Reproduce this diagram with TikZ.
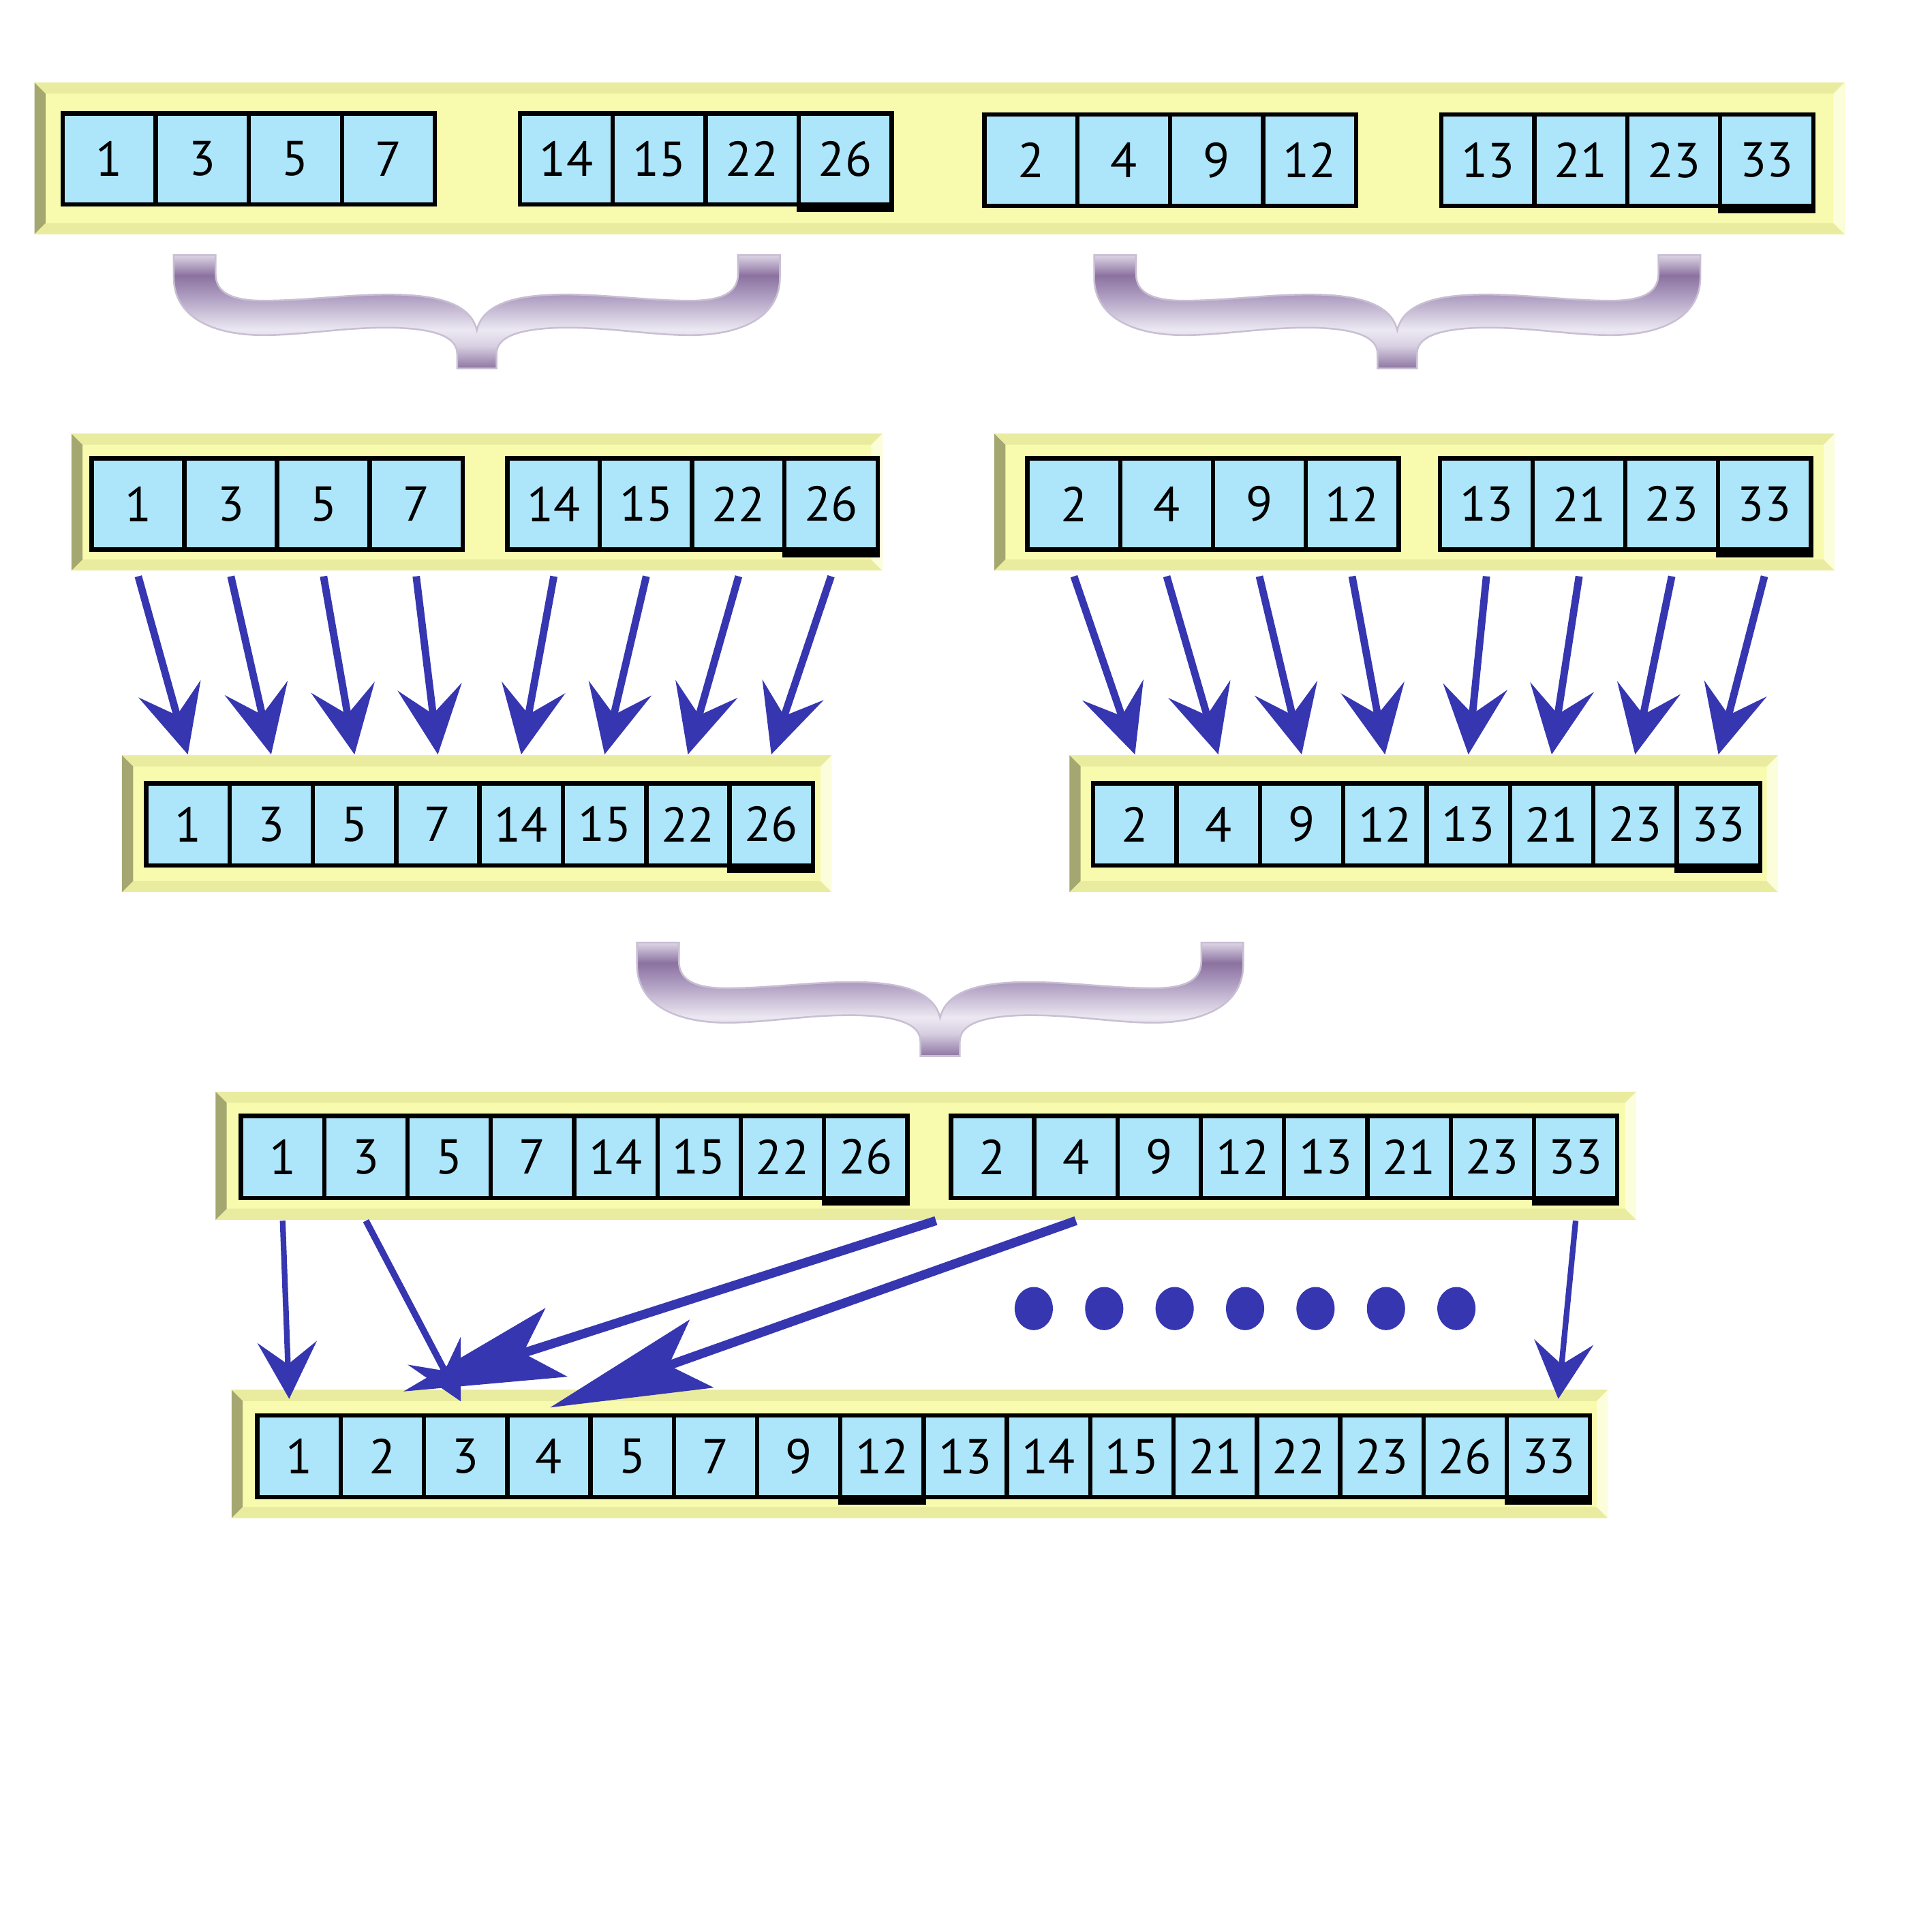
\documentclass[tikz,border=0pt]{standalone}
\usepackage{fontspec}
\setsansfont{PT Sans}
\usetikzlibrary{arrows.meta,positioning,fit,calc}

\definecolor{cellblue}{HTML}{ADE6FB}
\definecolor{trayface}{HTML}{F8FBAE}
\definecolor{trayedge}{HTML}{E9EC9F}
\definecolor{trayleft}{HTML}{A5A771}
\definecolor{trayright}{HTML}{FCFDDA}
\definecolor{arrowblue}{HTML}{3636B0}
\definecolor{braceA}{HTML}{8E76A3}
\definecolor{braceB}{HTML}{D8D0E2}
\definecolor{braceC}{HTML}{ECE8F2}
\definecolor{braceD}{HTML}{AD9CC0}
\definecolor{braceE}{HTML}{8C72A0}
\definecolor{braceF}{HTML}{DDD5E6}
\definecolor{bracerim}{HTML}{C9BFD3}

\pgfdeclareverticalshading{braceshade}{100bp}{color(0bp)=(braceA); color(25bp)=(braceA);
  color(35bp)=(braceB); color(42bp)=(braceC); color(57bp)=(braceD); color(66bp)=(braceE);
  color(75bp)=(braceF); color(100bp)=(braceF)}

\newcommand{\bev}{0.09cm}

\tikzset{
  tray/.style={fill=trayface, inner sep=0pt, path picture={
    \path (path picture bounding box.north west) coordinate (tnw)
          (path picture bounding box.north east) coordinate (tne)
          (path picture bounding box.south west) coordinate (tsw)
          (path picture bounding box.south east) coordinate (tse);
    \fill[trayedge] (tnw) -- (tne) -- ++(-\bev,-\bev) -- ($(tnw)+(\bev,-\bev)$) -- cycle;
    \fill[trayedge] (tsw) -- (tse) -- ++(-\bev,\bev) -- ($(tsw)+(\bev,\bev)$) -- cycle;
    \fill[trayleft] (tnw) -- ++(\bev,-\bev) -- ($(tsw)+(\bev,\bev)$) -- (tsw) -- cycle;
    \fill[trayright] (tne) -- ++(-\bev,-\bev) -- ($(tse)+(-\bev,\bev)$) -- (tse) -- cycle;
  }},
  cell/.style={draw=black, line width=1pt, fill=cellblue, inner sep=0pt,
    font=\fontsize{11.3}{13}\sffamily},
  bigcell/.style={cell, minimum width=0.755cm, minimum height=0.74cm},
  smallcell/.style={cell, minimum width=0.676cm, minimum height=0.665cm},
  mergearrow/.style={arrowblue, line width=1.7pt,
    -{Stealth[length=0.55cm, width=0.52cm, inset=0.22cm]}},
  downarrow/.style={arrowblue, line width=1.3pt,
    -{Stealth[length=0.46cm, width=0.48cm, inset=0.18cm]}},
  longarrow/.style={arrowblue, line width=2.1pt,
    -{Stealth[length=1.3cm, width=0.58cm, inset=0.28cm]}},
  mergebrace/.pic={
    \shade[shading=braceshade, draw=bracerim, line width=0.4pt]
      (-246,0) -- (-246,18) .. controls (-246,50) and (-215,65) .. (-173,65)
      .. controls (-140,65) and (-105,58) .. (-66,59)
      .. controls (-35,60) and (-16,66) .. (-16,80) -- (-16,92) -- (16,92) -- (16,80)
      .. controls (16,66) and (35,60) .. (66,59)
      .. controls (105,58) and (140,65) .. (173,65)
      .. controls (215,65) and (246,50) .. (246,18) -- (246,0) -- (212,0) -- (212,15)
      .. controls (212,30) and (200,37) .. (173,37)
      .. controls (140,37) and (105,32) .. (72,32)
      .. controls (30,32) and (5,40) .. (0,61)
      .. controls (-5,40) and (-30,32) .. (-72,32)
      .. controls (-105,32) and (-140,37) .. (-173,37)
      .. controls (-200,37) and (-212,30) .. (-212,15) -- (-212,0) -- cycle;
  }
}

\begin{document}
\begin{tikzpicture}[x=0.01cm, y=-0.01cm]
    \useasboundingbox (0,0) rectangle (1568,1568);

    % Input array, four runs
    \node[tray, fit={(28,67) (1497,190)}] (bar1) {};
    \foreach \v [count=\k] in {1,3,5,7}
        \node[bigcell] (in\k) at ({51+75.5*(\k-0.5)},129) {\v};
    \foreach \v [count=\k from 5] in {14,15,22,26}
        \node[bigcell] (in\k) at ({422+75.4*(\k-4.5)},129) {\v};
    \foreach \v [count=\k from 9] in {2,4,9,12}
        \node[bigcell] (in\k) at ({799+75.4*(\k-8.5)},130) {\v};
    \foreach \v [count=\k from 13] in {13,21,23,33}
        \node[bigcell] (in\k) at ({1170+75.4*(\k-12.5)},130) {\v};

    \pic at (387,207) {mergebrace};
    \pic at (1134,207) {mergebrace};

    % Pairs of runs
    \node[tray, fit={(58,352) (716,463)}] (bar2a) {};
    \node[tray, fit={(807,352) (1489,463)}] (bar2b) {};
    \foreach \v [count=\k] in {1,3,5,7}
        \node[bigcell] (ha\k) at ({74.6+75.2*(\k-0.5)},409) {\v};
    \foreach \v [count=\k from 5] in {14,15,22,26}
        \node[bigcell] (ha\k) at ({412+75*(\k-4.5)},409) {\v};
    \foreach \v [count=\k] in {2,4,9,12}
        \node[bigcell] (hb\k) at ({834+75.25*(\k-0.5)},409) {\v};
    \foreach \v [count=\k from 5] in {13,21,23,33}
        \node[bigcell] (hb\k) at ({1168.8+75.2*(\k-4.5)},409) {\v};

    % Merged runs
    \node[tray, fit={(99,613) (675,724)}] (bar3a) {};
    \node[tray, fit={(868,613) (1443,724)}] (bar3b) {};
    \foreach \v [count=\k] in {1,3,5,7,14,15,22,26}
        \node[smallcell] (ra\k) at ({118.6+67.65*(\k-0.5)},669) {\v};
    \foreach \v [count=\k] in {2,4,9,12,13,21,23,33}
        \node[smallcell] (rb\k) at ({887.3+67.65*(\k-0.5)},669) {\v};

    \foreach \k in {1,...,8} {
        \draw[mergearrow] ($(ha\k.south |- bar2a.south)+(0,4)$) -- (ra\k.north |- bar3a.north);
        \draw[mergearrow] ($(hb\k.south |- bar2b.south)+(0,4)$) -- (rb\k.north |- bar3b.north);
    }

    \pic at (763,765) {mergebrace};

    % Last merge
    \node[tray, fit={(175,886) (1328,990)}] (bar4) {};
    \foreach \v [count=\k] in {1,3,5,7,14,15,22,26}
        \node[smallcell] (m\k) at ({195.6+67.6*(\k-0.5)},939) {\v};
    \foreach \v [count=\k from 9] in {2,4,9,12,13,21,23,33}
        \node[smallcell] (m\k) at ({771.8+67.6*(\k-8.5)},939) {\v};

    % Result
    \node[tray, fit={(188,1128) (1305,1232)}] (bar5) {};
    \foreach \v [count=\k] in {1,2,3,4,5,7,9,12,13,14,15,21,22,23,26,33}
        \node[smallcell] (out\k) at ({208.9+67.6*(\k-0.5)},1182) {\v};

    % heavy bottom edge on the last cell of a run
    \foreach \c in {in8,in16,ha8,hb8,ra8,rb8,m8,m16,out8,out16}
        \draw[line width=1.5pt] ([yshift=-0.5pt]\c.south west) -- ([yshift=-0.5pt]\c.south east);

    \draw[downarrow] (m1.south |- bar4.south) -- ($(out1.north |- bar5.north)+(-8,8)$);
    \draw[downarrow, line width=1.5pt] (m2.south |- bar4.south) -- ($(out3.north |- bar5.north)+(-4,10)$);
    \draw[longarrow] ($(m9.south |- bar4.south)+(-46,0)$) -- ($(out2.north |- bar5.north)+(17,2)$);
    \draw[longarrow] (m10.south |- bar4.south) -- ($(out4.north |- bar5.north)+(1,15)$);
    \draw[downarrow] (m16.south |- bar4.south) -- ($(out16.north |- bar5.north)+(8,8)$);

    % dots
    \foreach \k in {0,...,6}
        \fill[arrowblue] ({839+57.17*\k},1062) ellipse [x radius=15.5, y radius=17.5];
\end{tikzpicture}
\end{document}
